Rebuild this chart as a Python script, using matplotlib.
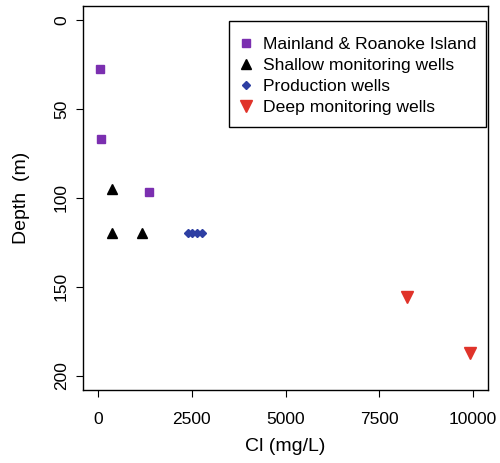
import matplotlib
matplotlib.use("Agg")
import matplotlib.pyplot as plt
from matplotlib.patches import Rectangle

plt.rcParams['font.family'] = ['Liberation Sans', 'DejaVu Sans']

# Cl (mg/L) and depth (m)
mainland_cl = [50, 80, 1360]
mainland_depth = [27.5, 67, 96.5]
shallow_cl = [370, 370, 1170]
shallow_depth = [95, 120, 120]
production_cl = [2400, 2510, 2630, 2760]
production_depth = [120, 120, 120, 120]
deep_cl = [8240, 9920]
deep_depth = [156, 187.5]

labels = ["Mainland & Roanoke Island", "Shallow monitoring wells",
          "Production wells", "Deep monitoring wells"]

fig = plt.figure(figsize=(5, 4.63), dpi=100)
ax = fig.add_axes([0.166, 0.158, 0.81, 0.829])

ax.plot(mainland_cl, mainland_depth, 's', color='#7b2fb0', ms=6, label=labels[0], linestyle='none')
ax.plot(shallow_cl, shallow_depth, '^', color='black', ms=7, label=labels[1], linestyle='none')
ax.plot(production_cl, production_depth, 'D', color='#2e3fa3', ms=4, label=labels[2], linestyle='none')
ax.plot(deep_cl, deep_depth, 'v', color='#e0332a', ms=8, label=labels[3], linestyle='none')

ax.set_xlim(-400, 10400)
ax.set_ylim(208, -8)
ax.set_xticks([0, 2500, 5000, 7500, 10000])
ax.set_yticks([0, 50, 100, 150, 200])
ax.tick_params(direction='out', length=5, labelsize=12.5, color='black')
ax.tick_params(axis='x', pad=11)
ax.tick_params(axis='y', pad=5)
for lab in ax.get_yticklabels():
    lab.set_rotation(90)
    lab.set_va('center')
ax.set_xlabel("Cl (mg/L)", fontsize=14, labelpad=8)
ax.set_ylabel("Depth  (m)", fontsize=14, labelpad=17)
for s in ax.spines.values():
    s.set_linewidth(1)

# legend frame drawn separately (taller than matplotlib's padding gives)
ax.add_patch(Rectangle((0.360, 0.685), 0.635, 0.276, transform=ax.transAxes,
                       facecolor='white', edgecolor='black', linewidth=1, zorder=4))
leg = ax.legend(loc='upper right', fontsize=12.6, frameon=False,
                handletextpad=0.57, labelspacing=0.33, borderpad=0.55,
                handlelength=0.8, borderaxespad=0, bbox_to_anchor=(0.995, 0.945))
leg.set_zorder(5)

fig.savefig("out.png", dpi=100)
